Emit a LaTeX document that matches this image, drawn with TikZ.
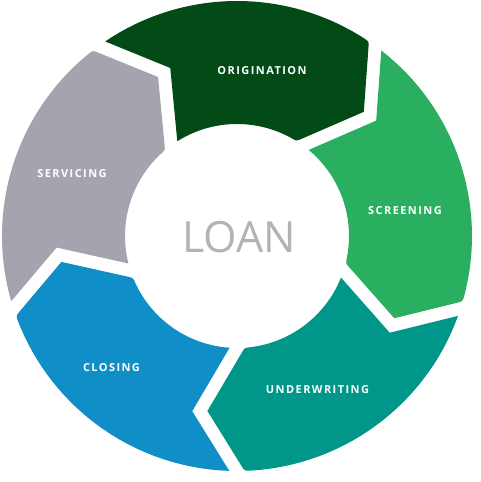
\documentclass[tikz,border=0pt]{standalone}
\usepackage{fontspec}
\setmainfont{Open Sans}
\newfontfamily\stagefont[LetterSpace=13]{Open Sans}
\usetikzlibrary{calc}
\definecolor{origgreen}{HTML}{024B16}
\definecolor{screengreen}{HTML}{2AAF60}
\definecolor{uwteal}{HTML}{00968A}
\definecolor{closeblue}{HTML}{108EC7}
\definecolor{servgrey}{HTML}{A4A4AF}
\definecolor{loangrey}{HTML}{B3B3B3}
\tikzset{
	stage/.style={text=white, font=\stagefont\bfseries\fontsize{11}{13}\selectfont},
	loan/.style={text=loangrey, font=\fontsize{43}{50}\selectfont}
}

\begin{document}
\begin{tikzpicture}[x=1pt,y=1pt]
		\useasboundingbox (-237,-246) rectangle (243,236);
		% one chevron segment per stage, tail angle \a, head at \a-72
		\foreach \a/\c in {126/origgreen, 54/screengreen, -18/uwteal, -90/closeblue, -162/servgrey}{
			\fill[\c] (\a-1.88:235) arc[start angle=\a-1.88, end angle=\a-68.7, radius=235]
				.. controls (\a-70.15:235) .. ($(\a-70.15:235)!0.085!(\a-81.6:177.5)$)
				-- (\a-81.6:177.5)
				-- ($(\a-81.6:177.5)!0.918!(\a-68.06:112)$)
				.. controls (\a-68.06:112) .. (\a-65:112)
				arc[start angle=\a-65, end angle=\a-3.79, radius=112]
				-- (\a-14.34:180.8) -- cycle;
		}
		\node[stage] (orig) at (25,165) {ORIGINATION};
		\node[stage] (screen) at (168,25) {SCREENING};
		\node[stage] (uw) at (80.5,-154) {UNDERWRITING};
		\node[stage] (close) at (-125.5,-132) {CLOSING};
		\node[stage] (serv) at (-165,62) {SERVICING};
		\node[loan] (loan) at (2,-1) {LOAN};
\end{tikzpicture}
\end{document}
